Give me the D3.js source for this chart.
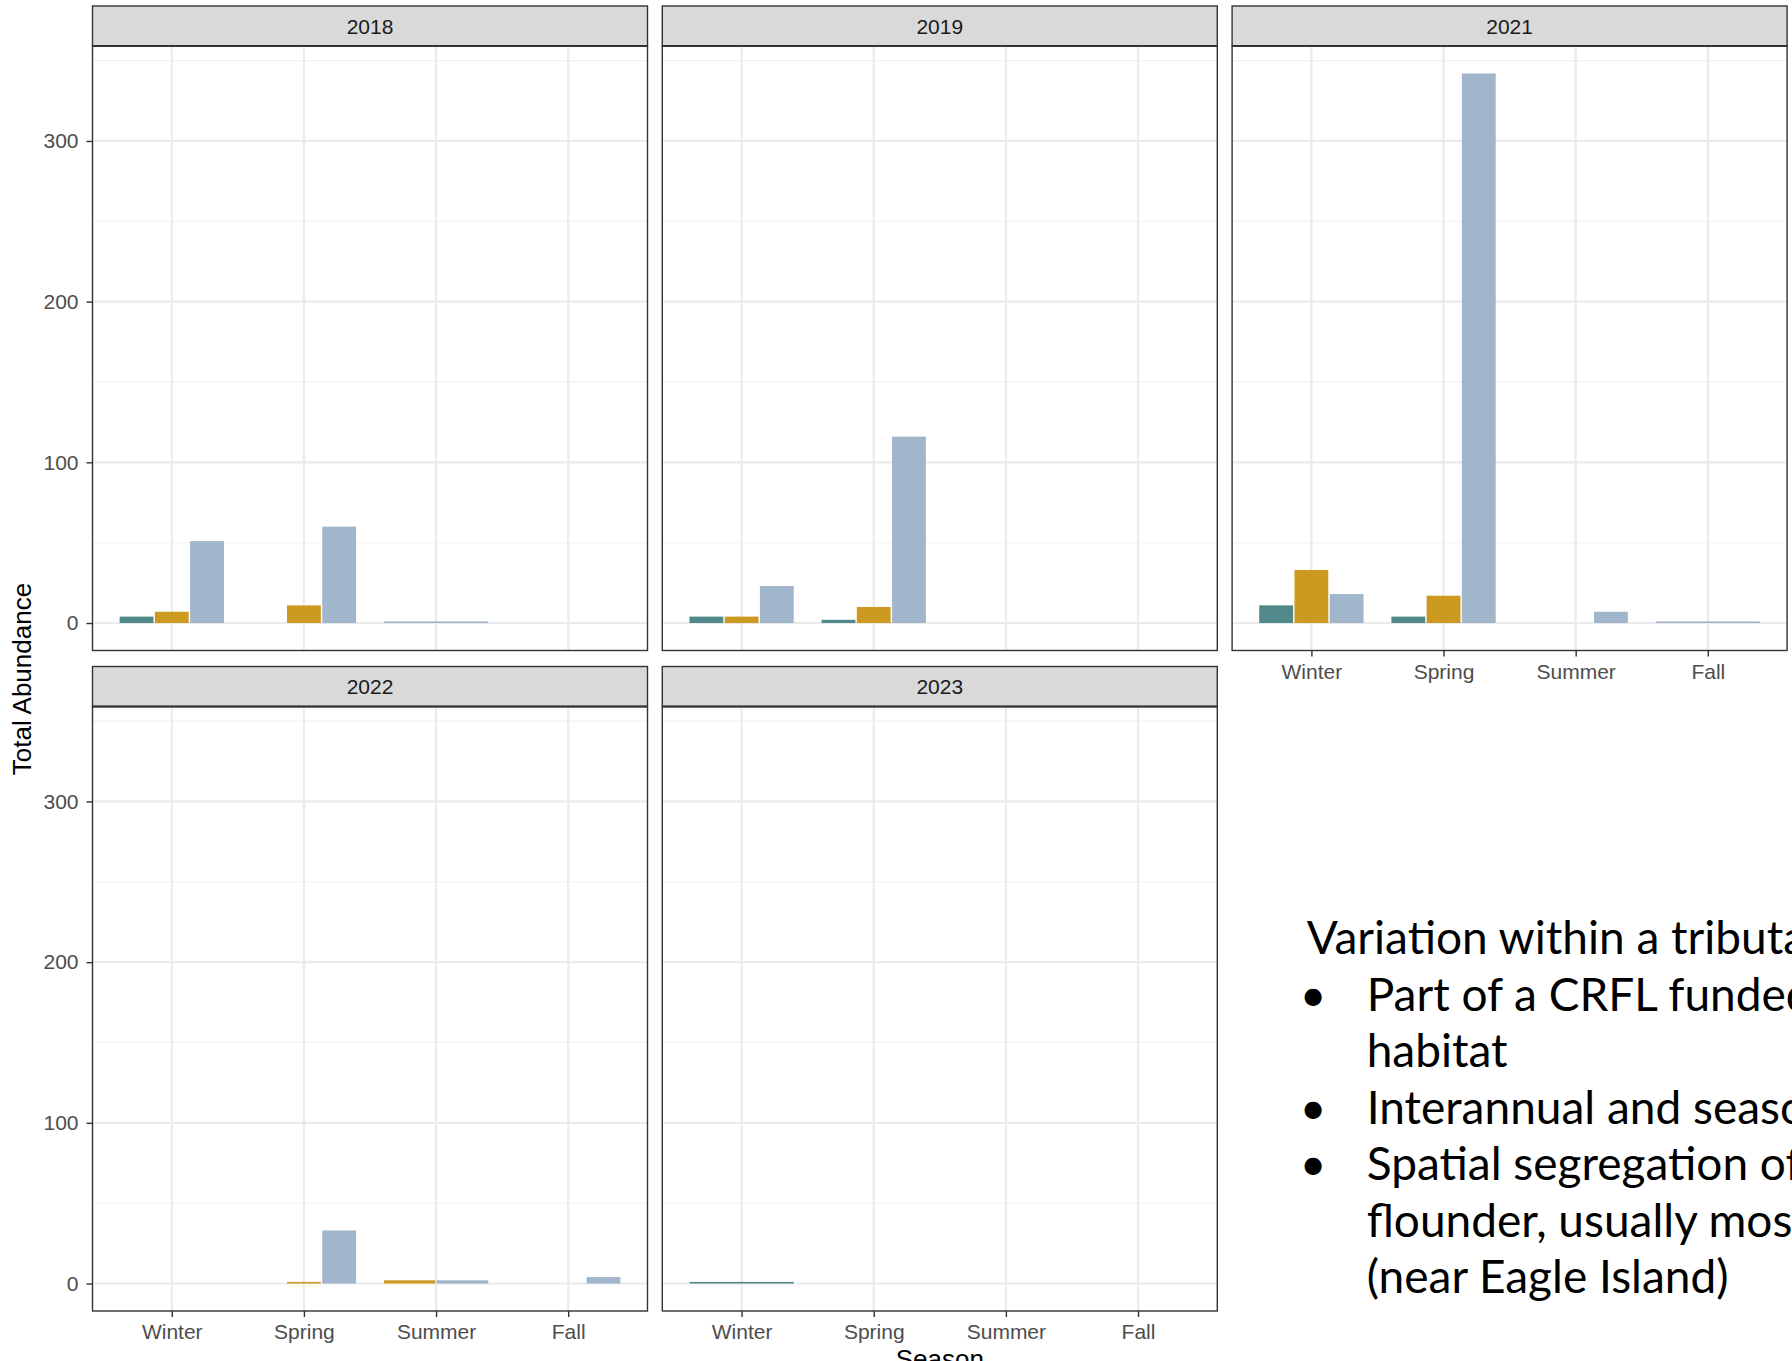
<!DOCTYPE html>
<html>
<head>
<meta charset="utf-8">
<script src="https://cdn.jsdelivr.net/npm/d3@7"></script>
<style>
  html, body { margin: 0; padding: 0; background: #ffffff; }
  svg { display: block; }
</style>
</head>
<body>
<script>
// ---------------- DATA ----------------
const seasons = ["Winter", "Spring", "Summer", "Fall"];
const years = ["2018", "2019", "2021", "2022", "2023"];
const seriesNames = ["Series A", "Series B", "Series C"];
const seriesColors = ["#51898a", "#cd9a21", "#a1b5cb"];
// per year: one [A, B, C] triple per season; null = no record for that group
const y2018 = [[4, 7, 51], [0, 11, 60], [null, null, 1], [null, null, null]];
const y2019 = [[4, 4, 23], [2, 10, 116], [null, null, null], [null, null, null]];
const y2021 = [[11, 33, 18], [4, 17, 342], [0, 0, 7], [null, null, 1]];
const y2022 = [[null, null, null], [0, 1, 33], [null, 2, 2], [0, 0, 4]];
const y2023 = [[1, null, null], [null, null, null], [null, null, null], [null, null, null]];
const yearValues = [y2018, y2019, y2021, y2022, y2023];
const yMajorTicks = [0, 100, 200, 300];
const yMinorTicks = [50, 150, 250, 350];
const textLines = [
  "Variation within a tributary",
  "Part of a CRFL funded",
  "habitat",
  "Interannual and seasonal",
  "Spatial segregation of",
  "flounder, usually most",
  "(near Eagle Island)"
];
const bulletLines = [false, true, false, true, true, false, false];

// ---------------- LAYOUT ----------------
const W = 1792, H = 1361;
const left = 92.5, pw = 555, gapX = 14.8;
const stripTops = [6, 666.5], stripH = 40, bodyH = 604.5;
const facetPos = [[0, 0], [0, 1], [0, 2], [1, 0], [1, 1]];
const showXAxis = [false, false, true, true, true];
const font = "'Liberation Sans', Arial, Helvetica, sans-serif";

const svg = d3.select("body").append("svg")
  .attr("width", W).attr("height", H)
  .attr("viewBox", `0 0 ${W} ${H}`);

const allVals = yearValues.flat(2).filter(v => v != null);
const vMax = d3.max(allVals);
const yDomain = [-0.05 * vMax, vMax * 1.05];

years.forEach((yr, i) => {
  const [r, c] = facetPos[i];
  const x0 = left + c * (pw + gapX);
  const sTop = stripTops[r];
  const bTop = sTop + stripH;
  const bBot = bTop + bodyH;

  const x = d3.scalePoint().domain(seasons).range([x0, x0 + pw]).padding(0.6);
  const y = d3.scaleLinear().domain(yDomain).range([bBot, bTop]);
  const step = x.step();

  const g = svg.append("g");
  g.append("rect").attr("x", x0).attr("y", bTop).attr("width", pw).attr("height", bodyH)
    .attr("fill", "#ffffff");

  // minor grid
  g.selectAll(".minor").data(yMinorTicks.filter(v => v >= yDomain[0] && v <= yDomain[1]))
    .enter().append("line")
    .attr("x1", x0).attr("x2", x0 + pw)
    .attr("y1", d => y(d)).attr("y2", d => y(d))
    .attr("stroke", "#f0f0f0").attr("stroke-width", 1.1);
  // major grid
  g.selectAll(".majorY").data(yMajorTicks).enter().append("line")
    .attr("x1", x0).attr("x2", x0 + pw)
    .attr("y1", d => y(d)).attr("y2", d => y(d))
    .attr("stroke", "#ebebeb").attr("stroke-width", 2.2);
  g.selectAll(".majorX").data(seasons).enter().append("line")
    .attr("x1", d => x(d)).attr("x2", d => x(d))
    .attr("y1", bTop).attr("y2", bBot)
    .attr("stroke", "#ebebeb").attr("stroke-width", 2.2);

  // bars (dodged among the groups present in each season)
  const vals = yearValues[i];
  seasons.forEach((s, si) => {
    const present = seriesNames.filter((n, k) => vals[si][k] != null);
    if (!present.length) return;
    const sub = d3.scaleBand().domain(present).range([-0.4 * step, 0.4 * step]).padding(0);
    present.forEach(n => {
      const k = seriesNames.indexOf(n);
      const v = vals[si][k];
      if (v <= 0) return;
      g.append("rect")
        .attr("x", x(s) + sub(n) + 0.7)
        .attr("width", sub.bandwidth() - 1.4)
        .attr("y", y(v))
        .attr("height", y(0) - y(v))
        .attr("fill", seriesColors[k]);
    });
  });

  // panel border
  g.append("rect").attr("x", x0).attr("y", bTop).attr("width", pw).attr("height", bodyH)
    .attr("fill", "none").attr("stroke", "#333333").attr("stroke-width", 1.4);

  // strip
  g.append("rect").attr("x", x0).attr("y", sTop).attr("width", pw).attr("height", stripH)
    .attr("fill", "#d9d9d9").attr("stroke", "#333333").attr("stroke-width", 1.4);
  g.append("line").attr("x1", x0).attr("x2", x0 + pw).attr("y1", bTop).attr("y2", bTop)
    .attr("stroke", "#333333").attr("stroke-width", 2.2);
  g.append("text").attr("x", x0 + pw / 2).attr("y", sTop + stripH / 2 + 7.5)
    .attr("text-anchor", "middle").attr("font-family", font).attr("font-size", 21)
    .attr("fill", "#1a1a1a").text(yr);

  // y axis on left column
  if (c === 0) {
    const ax = g.append("g").attr("transform", `translate(${x0},0)`)
      .call(d3.axisLeft(y).tickValues(yMajorTicks).tickSize(6).tickPadding(8));
    ax.select(".domain").remove();
    ax.selectAll(".tick line").attr("stroke", "#333333").attr("stroke-width", 1.4);
    ax.selectAll(".tick text").attr("font-family", font).attr("font-size", 21).attr("fill", "#4d4d4d");
  }
  // x axis
  if (showXAxis[i]) {
    const ax = g.append("g").attr("transform", `translate(0,${bBot})`)
      .call(d3.axisBottom(x).tickSize(6).tickPadding(7.5));
    ax.select(".domain").remove();
    ax.selectAll(".tick line").attr("stroke", "#333333").attr("stroke-width", 1.4);
    ax.selectAll(".tick text").attr("font-family", font).attr("font-size", 21).attr("fill", "#4d4d4d");
  }
});

// axis titles
svg.append("text")
  .attr("transform", "translate(31,679) rotate(-90)")
  .attr("text-anchor", "middle").attr("font-family", font).attr("font-size", 26)
  .attr("fill", "#000000").text("Total Abundance");
const plotRight = left + 3 * pw + 2 * gapX;
svg.append("text")
  .attr("x", (left + plotRight) / 2).attr("y", 1368)
  .attr("text-anchor", "middle").attr("font-family", font).attr("font-size", 26)
  .attr("fill", "#000000").text("Season");

// side text block
const tFont = "Lato, 'Open Sans', sans-serif";
const tg = svg.append("g");
textLines.forEach((t, i) => {
  const base = 954 + i * 56.5;
  const indent = i === 0 ? 1306.7 : 1366.7;
  if (bulletLines[i]) {
    tg.append("text").attr("x", 1313).attr("y", base).attr("text-anchor", "middle")
      .attr("font-family", tFont).attr("font-size", 46).attr("fill", "#000").text("•");
  }
  tg.append("text").attr("x", indent).attr("y", base)
    .attr("font-family", tFont).attr("font-size", 46).attr("fill", "#000").text(t);
});
</script>
</body>
</html>
